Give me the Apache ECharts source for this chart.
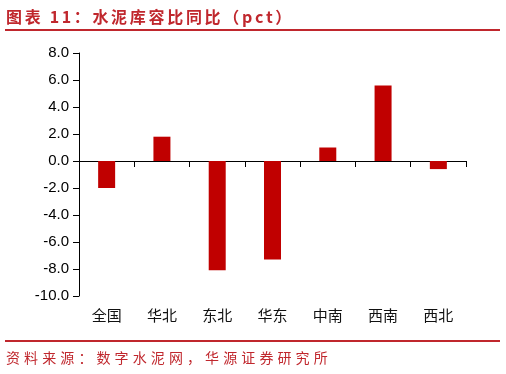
<!DOCTYPE html>
<html><head><meta charset="utf-8">
<script src="https://cdn.jsdelivr.net/npm/echarts@6/dist/echarts.min.js"></script>
<style>html,body{margin:0;padding:0;background:#fff}#c{width:506px;height:374px}</style>
</head><body><div id="c"></div>
<script>
const categories = ['全国', '华北', '东北', '华东', '中南', '西南', '西北'];
const values = [-2.0, 1.8, -8.1, -7.3, 1.0, 5.6, -0.6];
const titleText = '图表 11：水泥库容比同比（pct）';
const sourceText = '资料来源：数字水泥网，华源证券研究所';

const RED = '#C0272D';
const CJK = '"Noto Sans CJK SC", sans-serif';

const mctx = document.createElement('canvas').getContext('2d');
// lays text out character by character with a fixed pitch for full-width characters
function spacedText(str, x0, cy, font, color, weight, cjkPitch, asciiExtra) {
  const f = (weight || 'normal') + ' ' + font;
  mctx.font = f;
  let x = x0;
  return Array.from(str).map(ch => {
    const w = mctx.measureText(ch).width;
    const el = {
      type: 'text', left: x, top: cy, silent: true,
      style: { text: ch, font: f, fill: color, verticalAlign: 'middle' }
    };
    x += ch.charCodeAt(0) > 0x2e80 ? Math.max(w, cjkPitch) : w + (asciiExtra || 0);
    return el;
  });
}

const chart = echarts.init(document.getElementById('c'), null, { renderer: 'canvas' });
const graphics = []
  .concat(spacedText(titleText, 6, 9, '16px ' + CJK, RED, 'bold', 18.7, 2.6))
  .concat(spacedText(sourceText, 6, 351, '14px ' + CJK, RED, 'normal', 18.1, 0))
  .concat([
    { type: 'line', silent: true, shape: { x1: 5, y1: 30, x2: 500, y2: 30 }, style: { stroke: RED, lineWidth: 2 } },
    { type: 'line', silent: true, shape: { x1: 5, y1: 341, x2: 500, y2: 341 }, style: { stroke: RED, lineWidth: 2 } }
  ]);

chart.setOption({
  animation: false,
  grid: { left: 79, right: 40, top: 53, bottom: 78, containLabel: false },
  xAxis: [
    {
      type: 'category', data: categories, position: 'bottom',
      axisLine: { onZero: true, lineStyle: { color: '#000', width: 1 } },
      axisTick: { show: true, length: 6, lineStyle: { color: '#000' } },
      axisLabel: { show: false },
      splitLine: { show: false }
    },
    {
      type: 'category', data: categories, position: 'bottom',
      axisLine: { show: false, onZero: false },
      axisTick: { show: false },
      axisLabel: { show: true, margin: 12, color: '#111', fontSize: 15, fontFamily: CJK },
      splitLine: { show: false }
    }
  ],
  yAxis: {
    type: 'value', min: -10, max: 8, interval: 2,
    axisLine: { show: true, lineStyle: { color: '#000', width: 1 } },
    axisTick: { show: true, length: 6, inside: false, lineStyle: { color: '#000' } },
    axisLabel: { margin: 10, color: '#000', fontSize: 15, fontFamily: '"Liberation Sans", Arial, sans-serif', formatter: v => v.toFixed(1) },
    splitLine: { show: false }
  },
  series: [{
    type: 'bar', xAxisIndex: 0, data: values, barWidth: 17,
    itemStyle: { color: '#C00000' }
  }],
  graphic: graphics
});
</script></body></html>
